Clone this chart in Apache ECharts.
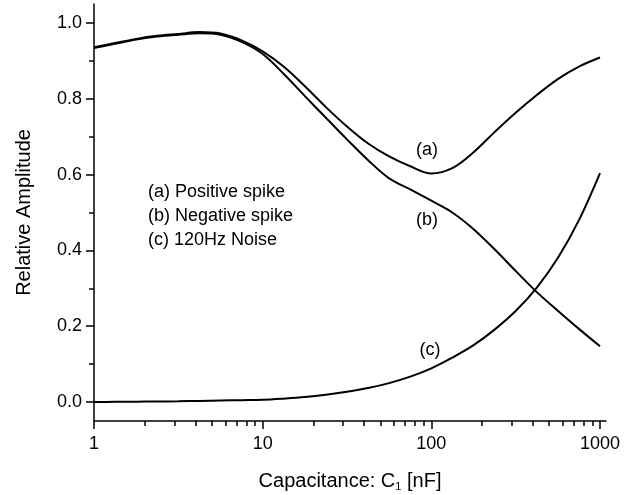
<!DOCTYPE html>
<html>
<head>
<meta charset="utf-8">
<script src="https://cdn.jsdelivr.net/npm/echarts@6/dist/echarts.min.js"></script>
<style>html,body{margin:0;padding:0;background:#fff}#c{width:633px;height:495px}</style>
</head>
<body>
<div id="c"></div>
<script>
const capacitance = [1, 1.33, 1.78, 2.37, 3.16, 4.22, 5.62, 7.5, 10, 13.3, 17.8, 23.7, 31.6, 42.2, 56.2, 75, 100, 133, 178, 237, 316, 422, 562, 750, 1000];
const positiveSpike = [0.936, 0.947, 0.958, 0.966, 0.971, 0.976, 0.972, 0.954, 0.925, 0.885, 0.833, 0.778, 0.727, 0.682, 0.648, 0.622, 0.603, 0.617, 0.659, 0.712, 0.763, 0.810, 0.852, 0.885, 0.909];
const negativeSpike = [0.934, 0.945, 0.956, 0.964, 0.969, 0.973, 0.969, 0.950, 0.918, 0.866, 0.807, 0.750, 0.693, 0.638, 0.590, 0.561, 0.531, 0.500, 0.456, 0.403, 0.346, 0.290, 0.241, 0.193, 0.147];
const noise120Hz = [0.000, 0.0005, 0.001, 0.0015, 0.002, 0.003, 0.004, 0.005, 0.006, 0.009, 0.013, 0.019, 0.027, 0.037, 0.050, 0.067, 0.089, 0.117, 0.150, 0.191, 0.240, 0.302, 0.380, 0.480, 0.604];

const xMajorTicks = [1, 10, 100, 1000];
const xMinorTicks = [2, 3, 4, 5, 6, 7, 8, 9, 20, 30, 40, 50, 60, 70, 80, 90, 200, 300, 400, 500, 600, 700, 800, 900];
const yMajorTicks = [0, 0.2, 0.4, 0.6, 0.8, 1.0];
const yMinorTicks = [0.1, 0.3, 0.5, 0.7, 0.9];
const xLimits = [1, 1085];
const yLimits = [-0.05, 1.05];

const legendLines = ['(a) Positive spike', '(b) Negative spike', '(c) 120Hz Noise'];
const curveTags = ['(a)', '(b)', '(c)'];

const FONT = '"Liberation Sans", Arial, Helvetica, sans-serif';
const lg = v => Math.log10(v);
const pairs = (xs, ys) => xs.map((x, i) => [lg(x), ys[i]]);

const chart = echarts.init(document.getElementById('c'), null, {renderer: 'canvas'});
const xmin = lg(xLimits[0]), xmax = lg(xLimits[1]);

const baseX = {
  type: 'value', min: xmin, max: xmax, gridIndex: 0, position: 'bottom',
  splitLine: {show: false}
};
const baseY = {
  type: 'value', min: yLimits[0], max: yLimits[1], gridIndex: 0, position: 'left',
  splitLine: {show: false}
};

const lineSeries = (name, xs, ys) => ({
  name, type: 'line', xAxisIndex: 0, yAxisIndex: 0,
  data: pairs(xs, ys), showSymbol: false, smooth: 0.35,
  lineStyle: {color: '#000', width: 2}, itemStyle: {color: '#000'},
  animation: false
});

const graphics = [];
legendLines.forEach((t, i) => graphics.push({
  type: 'text', x: 148, y: 192 + i * 24,
  style: {text: t, font: '18px ' + FONT, fill: '#000', align: 'left', verticalAlign: 'middle'}
}));
const tagPos = [[427, 150], [427, 220], [430, 350]];
curveTags.forEach((t, i) => graphics.push({
  type: 'text', x: tagPos[i][0], y: tagPos[i][1],
  style: {text: t, font: '18px ' + FONT, fill: '#000', align: 'center', verticalAlign: 'middle'}
}));

chart.setOption({
  backgroundColor: '#fff',
  animation: false,
  textStyle: {fontFamily: FONT},
  grid: {left: 94, right: 27, top: 4, bottom: 74, containLabel: false, outerBoundsMode: 'none'},
  xAxis: [
    Object.assign({}, baseX, {
      name: 'Capacitance: C{sub|1} [nF]', nameLocation: 'middle', nameGap: 50,
      nameTextStyle: {fontSize: 20, color: '#000', fontFamily: FONT,
        rich: {sub: {fontSize: 11, color: '#000', fontFamily: FONT, verticalAlign: 'bottom', padding: [10, 0, 0, 0]}}},
      axisLine: {show: true, onZero: false, lineStyle: {color: '#000', width: 1.5}},
      axisTick: {show: true, inside: false, length: 8, customValues: xMajorTicks.map(lg), lineStyle: {color: '#000', width: 1.5}},
      axisLabel: {show: true, customValues: xMajorTicks.map(lg), margin: 14, fontSize: 18, color: '#000', fontFamily: FONT,
        formatter: v => String(Math.round(Math.pow(10, v)))}
    }),
    Object.assign({}, baseX, {
      axisLine: {show: false, onZero: false},
      axisTick: {show: true, inside: false, length: 5, customValues: xMinorTicks.map(lg), lineStyle: {color: '#000', width: 1.5}},
      axisLabel: {show: false}
    })
  ],
  yAxis: [
    Object.assign({}, baseY, {
      name: 'Relative Amplitude', nameLocation: 'middle', nameGap: 60, nameRotate: 90,
      nameTextStyle: {fontSize: 20, color: '#000', fontFamily: FONT},
      axisLine: {show: true, onZero: false, lineStyle: {color: '#000', width: 1.5}},
      axisTick: {show: true, inside: false, length: 8, customValues: yMajorTicks, lineStyle: {color: '#000', width: 1.5}},
      axisLabel: {show: true, customValues: yMajorTicks, margin: 12, fontSize: 18, color: '#000', fontFamily: FONT,
        formatter: v => v.toFixed(1)}
    }),
    Object.assign({}, baseY, {
      axisLine: {show: false, onZero: false},
      axisTick: {show: true, inside: false, length: 5, customValues: yMinorTicks, lineStyle: {color: '#000', width: 1.5}},
      axisLabel: {show: false}
    })
  ],
  series: [
    lineSeries('a', capacitance, positiveSpike),
    lineSeries('b', capacitance, negativeSpike),
    lineSeries('c', capacitance, noise120Hz)
  ],
  graphic: graphics
});
</script>
</body>
</html>
